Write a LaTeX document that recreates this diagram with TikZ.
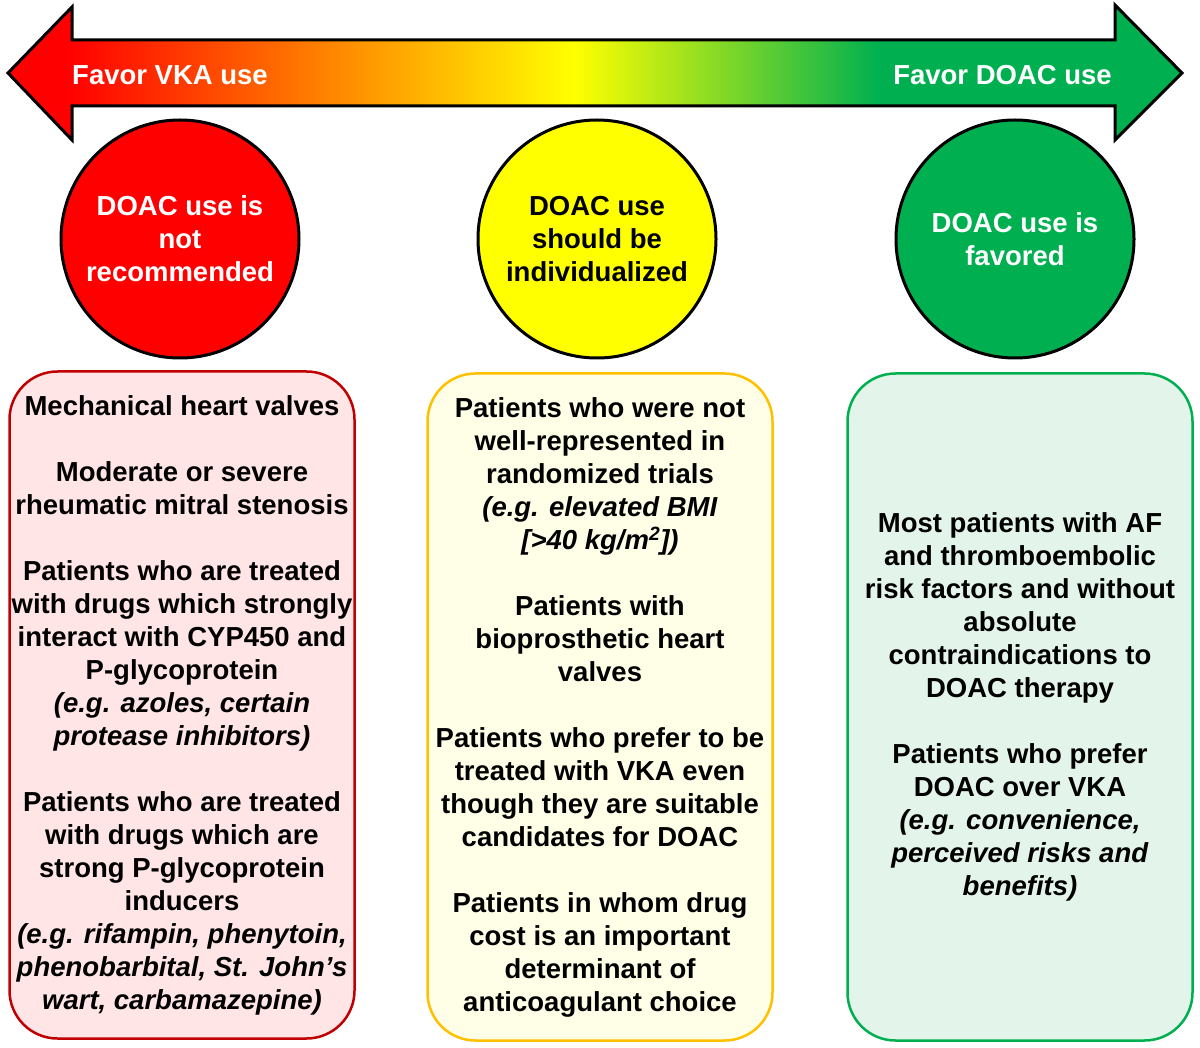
\documentclass[tikz,border=0pt]{standalone}
\usepackage{fontspec}
\setmainfont{Liberation Sans}
\usepackage{xcolor}
\usetikzlibrary{positioning}

\definecolor{vkared}{HTML}{FF0000}
\definecolor{vkadark}{HTML}{C00000}
\definecolor{vkapink}{HTML}{FFE5E6}
\definecolor{favororange}{HTML}{FF9900}
\definecolor{indivyellow}{HTML}{FFFF00}
\definecolor{indivgold}{HTML}{FFC000}
\definecolor{indivcream}{HTML}{FFFFE8}
\definecolor{doacgreen}{HTML}{00B050}
\definecolor{doacmint}{HTML}{E3F5EA}

\pgfdeclarehorizontalshading{favorshade}{100bp}{color(0bp)=(vkared); color(27.6bp)=(vkared); color(40.4bp)=(favororange); color(49.1bp)=(indivyellow); color(62.1bp)=(doacgreen); color(100bp)=(doacgreen)}

\begin{document}
\begin{tikzpicture}[
  x=1pt, y=-1pt,
  txt/.style={font=\bfseries\fontsize{27.5}{33}\selectfont, align=center},
  verdict/.style={circle, draw, line width=3pt, minimum size=238pt, inner sep=0pt, txt},
  listbox/.style={rectangle, rounded corners=48pt, line width=2.5pt, minimum width=345pt, minimum height=667pt, inner sep=0pt, txt},
  favor/.style={txt, text=white, inner sep=0pt}
]
  \useasboundingbox (0,0) rectangle (1200,1048);
  % scale arrow
  \shadedraw[shading=favorshade, line width=3pt, line join=miter]
    (8,73) -- (72,7) -- (72,40) -- (1115,40) -- (1115,5) -- (1182,73)
    -- (1115,140) -- (1115,106) -- (72,106) -- (72,140) -- cycle;
  \node[favor, anchor=west] (favorvka) at (72,75) {Favor VKA use};
  \node[favor, anchor=east] (favordoac) at (1112,75) {Favor DOAC use};

  % verdict circles
  \node[verdict, fill=vkared, text=white] (notrec) at (180,239) {DOAC use is\\not\\recommended};
  \node[verdict, fill=indivyellow] (indiv) at (597,239) {DOAC use\\should be\\individualized};
  \node[verdict, fill=doacgreen, text=white] (favored) at (1015,239) {DOAC use is\\favored};

  % patient lists
  \node[listbox, draw=vkadark, fill=vkapink] (notrecbox) at (182,705) {%
    Mechanical heart valves\\[33pt]
    Moderate or severe\\rheumatic mitral stenosis\\[33pt]
    Patients who are treated\\with drugs which strongly\\interact with CYP450 and\\P-glycoprotein\\
    \textit{(e.g. azoles, certain}\\\textit{protease inhibitors)}\\[33pt]
    Patients who are treated\\with drugs which are\\strong P-glycoprotein\\inducers\\
    \textit{(e.g. rifampin, phenytoin,}\\\textit{phenobarbital, St. John’s}\\\textit{wart, carbamazepine)}};
  \node[listbox, draw=indivgold, fill=indivcream] (indivbox) at (600,707) {%
    Patients who were not\\well-represented in\\randomized trials\\
    \textit{(e.g. elevated BMI}\\\textit{[>40 kg/m\textsuperscript{2}])}\\[33pt]
    Patients with\\bioprosthetic heart\\valves\\[33pt]
    Patients who prefer to be\\treated with VKA even\\though they are suitable\\candidates for DOAC\\[33pt]
    Patients in whom drug\\cost is an important\\determinant of\\anticoagulant choice};
  \node[listbox, draw=doacgreen, fill=doacmint] (favoredbox) at (1020,707) {%
    Most patients with AF\\and thromboembolic\\risk factors and without\\absolute\\contraindications to\\DOAC therapy\\[33pt]
    Patients who prefer\\DOAC over VKA\\
    \textit{(e.g. convenience,}\\\textit{perceived risks and}\\\textit{benefits)}};
\end{tikzpicture}
\end{document}
